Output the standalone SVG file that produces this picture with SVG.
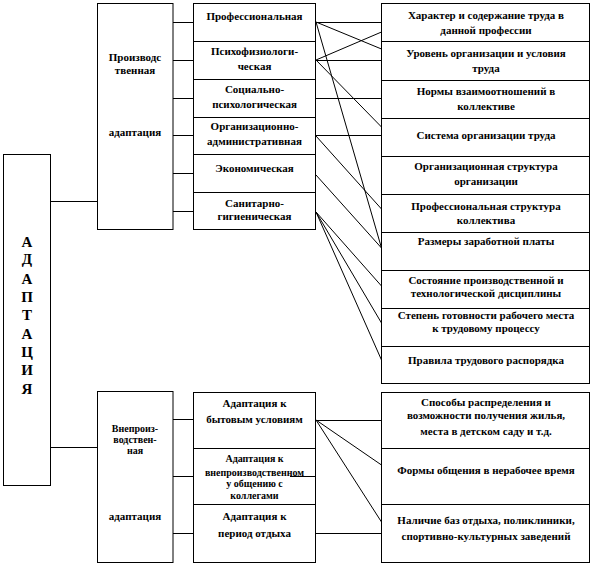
<svg xmlns="http://www.w3.org/2000/svg" width="593" height="564" viewBox="0 0 593 564">
<style>
.b{fill:#fff;stroke:#000;stroke-width:1}
.t{font-family:"Liberation Serif","Times New Roman","DejaVu Serif",serif;font-weight:bold;font-size:11px;text-anchor:middle;fill:#000}
.s{font-size:10px}
.big{font-size:15px}
.c{stroke:#000;stroke-width:1;fill:none}
</style>
<rect width="593" height="564" fill="#fff"/>
<g id="connectors">
<line class="c" x1="50.5" y1="201.5" x2="97.5" y2="201.5"/>
<line class="c" x1="50.5" y1="447.5" x2="97.5" y2="447.5"/>
<line class="c" x1="173" y1="22.5" x2="193.5" y2="22.5"/>
<line class="c" x1="173" y1="60.5" x2="193.5" y2="60.5"/>
<line class="c" x1="173" y1="98.5" x2="193.5" y2="98.5"/>
<line class="c" x1="173" y1="135.5" x2="193.5" y2="135.5"/>
<line class="c" x1="173" y1="173.5" x2="193.5" y2="173.5"/>
<line class="c" x1="173" y1="211.5" x2="193.5" y2="211.5"/>
<line class="c" x1="316" y1="22.5" x2="381.5" y2="22.5"/>
<line class="c" x1="316" y1="22" x2="381.5" y2="49"/>
<line class="c" x1="316" y1="22" x2="381.5" y2="248"/>
<line class="c" x1="316" y1="60" x2="381.5" y2="32"/>
<line class="c" x1="316" y1="60.5" x2="381.5" y2="60.5"/>
<line class="c" x1="316" y1="60" x2="381.5" y2="127"/>
<line class="c" x1="316" y1="98.5" x2="381.5" y2="98.5"/>
<line class="c" x1="316" y1="135.5" x2="381.5" y2="135.5"/>
<line class="c" x1="316" y1="136" x2="381.5" y2="209"/>
<line class="c" x1="316" y1="175" x2="381.5" y2="248"/>
<line class="c" x1="316" y1="212" x2="381.5" y2="286"/>
<line class="c" x1="316" y1="212" x2="381.5" y2="323"/>
<line class="c" x1="316" y1="212" x2="381.5" y2="360"/>
<line class="c" x1="173" y1="419.5" x2="193.5" y2="419.5"/>
<line class="c" x1="173" y1="476.5" x2="193.5" y2="476.5"/>
<line class="c" x1="173" y1="533.5" x2="193.5" y2="533.5"/>
<line class="c" x1="316" y1="420.5" x2="381.5" y2="420.5"/>
<line class="c" x1="316" y1="420" x2="381.5" y2="465"/>
<line class="c" x1="316" y1="420" x2="381.5" y2="522"/>
<line class="c" x1="316" y1="533.5" x2="381.5" y2="533.5"/>
</g>
<g id="adaptation">
<rect class="b" x="3.5" y="154.5" width="47" height="331"/>
<text class="t big" x="27" y="247">А</text>
<text class="t big" x="27" y="264">Д</text>
<text class="t big" x="27" y="284">А</text>
<text class="t big" x="27" y="302">П</text>
<text class="t big" x="27" y="320">Т</text>
<text class="t big" x="27" y="339">А</text>
<text class="t big" x="27" y="357">Ц</text>
<text class="t big" x="27" y="375">И</text>
<text class="t big" x="27" y="394">Я</text>
</g>
<g id="production">
<rect class="b" x="97.5" y="3.5" width="75.5" height="226"/>
<text class="t" x="135" y="61">Производс</text>
<text class="t" x="135" y="74">твенная</text>
<text class="t" x="135" y="136">адаптация</text>
</g>
<g id="nonproduction">
<rect class="b" x="97.5" y="391.5" width="75.5" height="171"/>
<text class="t s" x="135" y="432">Внепроиз-</text>
<text class="t s" x="135" y="443">водствен-</text>
<text class="t s" x="135" y="454">ная</text>
<text class="t" x="135" y="520">адаптация</text>
</g>
<g id="prof">
<rect class="b" x="193.5" y="3.5" width="122" height="38"/>
<text class="t" x="254.5" y="20">Профессиональная</text>
</g>
<g id="psycho">
<rect class="b" x="193.5" y="41.5" width="122" height="38"/>
<text class="t" x="254.5" y="55">Психофизиологи-</text>
<text class="t" x="254.5" y="70">ческая</text>
</g>
<g id="social">
<rect class="b" x="193.5" y="79.5" width="122" height="38"/>
<text class="t" x="254.5" y="93">Социально-</text>
<text class="t" x="254.5" y="108">психологическая</text>
</g>
<g id="org">
<rect class="b" x="193.5" y="117.5" width="122" height="37"/>
<text class="t" x="254.5" y="130">Организационно-</text>
<text class="t" x="254.5" y="145">административная</text>
</g>
<g id="econ">
<rect class="b" x="193.5" y="154.5" width="122" height="38"/>
<text class="t" x="254.5" y="172">Экономическая</text>
</g>
<g id="sanit">
<rect class="b" x="193.5" y="192.5" width="122" height="37"/>
<text class="t" x="254.5" y="207">Санитарно-</text>
<text class="t" x="254.5" y="220">гигиеническая</text>
</g>
<g id="r1">
<rect class="b" x="381.5" y="3.5" width="208" height="38"/>
<text class="t" x="486" y="19">Характер и содержание труда в</text>
<text class="t" x="486" y="34">данной профессии</text>
</g>
<g id="r2">
<rect class="b" x="381.5" y="41.5" width="208" height="39"/>
<text class="t" x="486" y="57">Уровень организации и условия</text>
<text class="t" x="486" y="72">труда</text>
</g>
<g id="r3">
<rect class="b" x="381.5" y="80.5" width="208" height="38"/>
<text class="t" x="486" y="95">Нормы взаимоотношений  в</text>
<text class="t" x="486" y="110">коллективе</text>
</g>
<g id="r4">
<rect class="b" x="381.5" y="118.5" width="208" height="38"/>
<text class="t" x="486" y="139">Система  организации  труда</text>
</g>
<g id="r5">
<rect class="b" x="381.5" y="156.5" width="208" height="38"/>
<text class="t" x="486" y="170">Организационная  структура</text>
<text class="t" x="486" y="185">организации</text>
</g>
<g id="r6">
<rect class="b" x="381.5" y="194.5" width="208" height="38"/>
<text class="t" x="486" y="210">Профессиональная структура</text>
<text class="t" x="486" y="224">коллектива</text>
</g>
<g id="r7">
<rect class="b" x="381.5" y="232.5" width="208" height="38"/>
<text class="t" x="486" y="245">Размеры заработной платы</text>
</g>
<g id="r8">
<rect class="b" x="381.5" y="270.5" width="208" height="38"/>
<text class="t" x="486" y="284">Состояние производственной  и</text>
<text class="t" x="486" y="297">технологической  дисциплины</text>
</g>
<g id="r9">
<rect class="b" x="381.5" y="308.5" width="208" height="38"/>
<text class="t" x="486" y="319">Степень  готовности  рабочего места</text>
<text class="t" x="486" y="332">к трудовому процессу</text>
</g>
<g id="r10">
<rect class="b" x="381.5" y="346.5" width="208" height="37"/>
<text class="t" x="486" y="364">Правила трудового распорядка</text>
</g>
<g id="living">
<rect class="b" x="193.5" y="392.5" width="122" height="56"/>
<text class="t" x="254.5" y="407">Адаптация  к</text>
<text class="t" x="254.5" y="423">бытовым  условиям</text>
</g>
<g id="communication">
<rect class="b" x="193.5" y="448.5" width="122" height="56"/>
<text class="t s" x="254.5" y="462">Адаптация к</text>
<text class="t s" x="254.5" y="476">внепроизводственном</text>
<text class="t s" x="254.5" y="487">у общению с</text>
<text class="t s" x="254.5" y="499">коллегами</text>
</g>
<g id="rest">
<rect class="b" x="193.5" y="504.5" width="122" height="58"/>
<text class="t" x="254.5" y="520">Адаптация  к</text>
<text class="t" x="254.5" y="537">период  отдыха</text>
</g>
<line class="c" x1="290" y1="476.5" x2="316" y2="476.5"/>
<g id="s1">
<rect class="b" x="381.5" y="392.5" width="208" height="56"/>
<text class="t" x="486" y="406">Способы  распределения  и</text>
<text class="t" x="486" y="419">возможности  получения  жилья,</text>
<text class="t" x="486" y="435">места  в детском саду и т.д.</text>
</g>
<g id="s2">
<rect class="b" x="381.5" y="448.5" width="208" height="56"/>
<text class="t" x="486" y="474">Формы общения  в нерабочее время</text>
</g>
<g id="s3">
<rect class="b" x="381.5" y="504.5" width="208" height="58"/>
<text class="t" x="486" y="524">Наличие баз  отдыха,  поликлиники,</text>
<text class="t" x="486" y="540">спортивно-культурных заведений</text>
</g>
</svg>
